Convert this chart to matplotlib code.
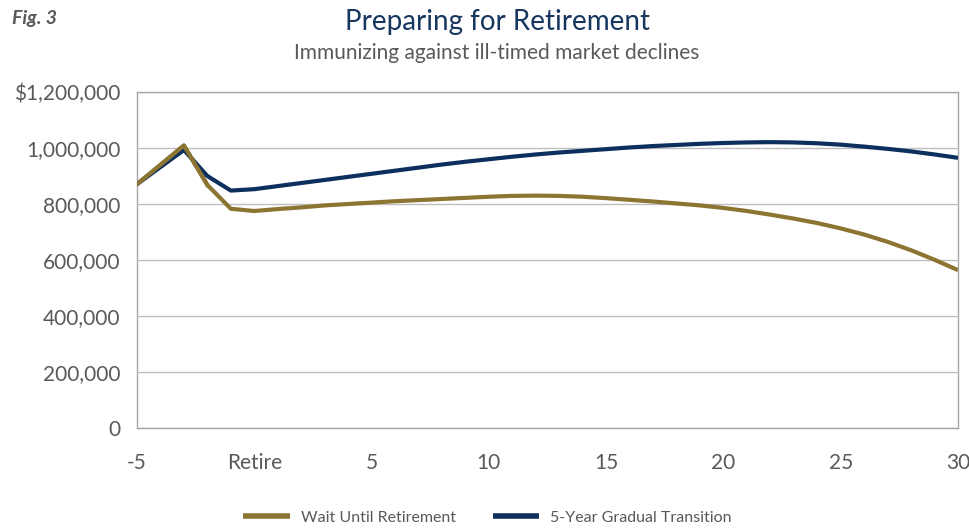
import matplotlib
matplotlib.use("Agg")
import matplotlib.pyplot as plt
from matplotlib.ticker import FuncFormatter

years = list(range(-5, 31))
wait_until_retirement = [
    872000, 941000, 1010000, 869000, 784000,
    776000, 783000, 789000, 796000, 801000, 806000, 811000, 815000, 819000, 823000,
    827000, 830000, 831000, 830000, 827000, 822000, 816000, 810000, 803000, 796000,
    787000, 776000, 763000, 749000, 733000, 714000, 692000, 666000, 636000, 602000, 565000,
]
gradual_transition = [
    872000, 933000, 994000, 901000, 849000,
    854000, 865000, 876000, 887000, 898000, 909000, 920000, 931000, 942000, 952000,
    961000, 970000, 978000, 985000, 991000, 997000, 1003000, 1008000, 1012000, 1016000,
    1019000, 1021000, 1022000, 1021000, 1018000, 1013000, 1006000, 998000, 989000, 978000, 966000,
]
x_ticks = [-5, 0, 5, 10, 15, 20, 25, 30]
x_tick_labels = ["-5", "Retire", "5", "10", "15", "20", "25", "30"]
y_ticks = [0, 200000, 400000, 600000, 800000, 1000000, 1200000]

GOLD = "#8C7532"
NAVY = "#0D2F5E"
TEXT = "#595959"
FONT = ["Lato", "DejaVu Sans"]

plt.rcParams["font.family"] = FONT

fig = plt.figure(figsize=(9.69, 5.29), dpi=100)
ax = fig.add_axes([0.1414, 0.1904, 0.9886 - 0.1414, 0.8255 - 0.1904])

ax.plot(years, wait_until_retirement, color=GOLD, lw=3.0, label="Wait Until Retirement",
        solid_joinstyle="round", solid_capstyle="butt", zorder=3)
ax.plot(years, gradual_transition, color=NAVY, lw=3.0, label="5-Year Gradual Transition",
        solid_joinstyle="round", solid_capstyle="butt", zorder=3)
ax.plot(years[:4], wait_until_retirement[:4], color=GOLD, lw=3.0,
        solid_joinstyle="round", zorder=4)

ax.set_xlim(-5, 30)
ax.set_ylim(0, 1200000)
ax.set_xticks(x_ticks)
ax.set_xticklabels(x_tick_labels)
ax.set_yticks(y_ticks)
ax.yaxis.set_major_formatter(FuncFormatter(
    lambda v, p: ("$" if v == 1200000 else "") + f"{int(v):,}"))

ax.grid(axis="y", color="#BFBFBF", lw=1.0)
ax.set_axisbelow(True)
for s in ["left", "bottom", "right", "top"]:
    ax.spines[s].set_color("#A6A6A6")
    ax.spines[s].set_linewidth(1.0)
ax.tick_params(axis="both", length=0, labelsize=15, colors=TEXT)
ax.tick_params(axis="x", pad=18)
ax.tick_params(axis="y", pad=12)

fig.text(0.012, 0.965, "Fig. 3", fontsize=14, style="italic", fontweight="bold",
         color="#595959", va="center", ha="left")
fig.text(0.513, 0.958, "Preparing for Retirement", fontsize=20, color="#17375E",
         ha="center", va="center")
fig.text(0.513, 0.900, "Immunizing against ill-timed market declines", fontsize=15,
         color=TEXT, ha="center", va="center")

leg = fig.legend(loc="center", bbox_to_anchor=(0.503, 0.021), ncol=2, frameon=False,
                 fontsize=11.5, handlelength=2.9, columnspacing=2.3, handletextpad=0.7)
for t in leg.get_texts():
    t.set_color(TEXT)
for h in leg.get_lines():
    h.set_linewidth(4)

fig.savefig("out.png", dpi=100)
